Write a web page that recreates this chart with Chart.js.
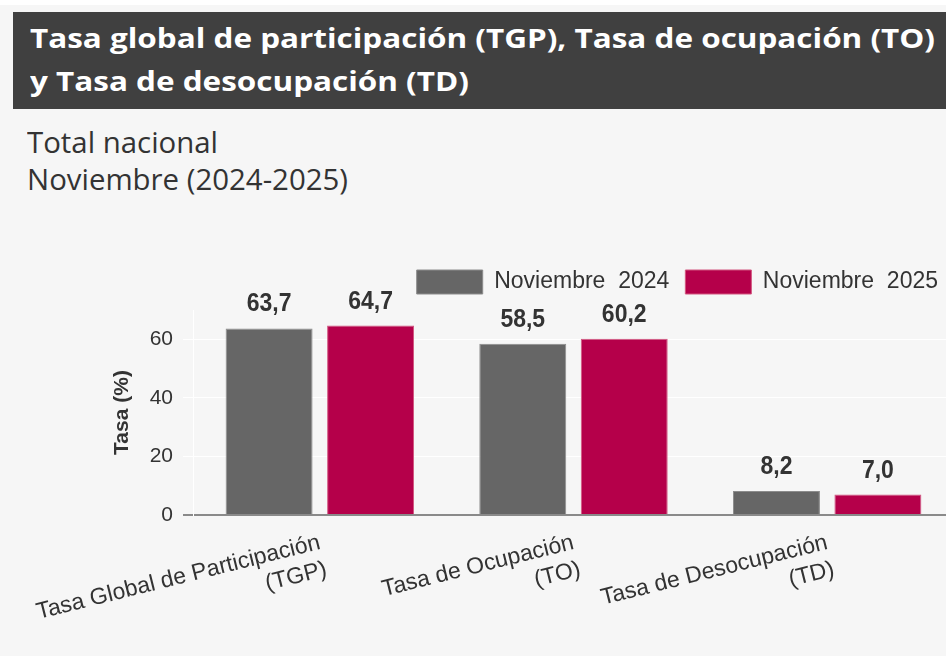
<!DOCTYPE html>
<html>
<head>
<meta charset="utf-8">
<script src="https://cdn.jsdelivr.net/npm/chart.js@4.4.1/dist/chart.umd.min.js"></script>
<style>
  html, body { margin:0; padding:0; width:946px; height:656px; overflow:hidden; background:#ffffff; }
  #bg { position:absolute; left:0; top:5px; width:946px; height:651px; background:#f6f6f6; }
  #titlebar { position:absolute; left:13px; top:12px; width:940px; height:97px; background:#404040; }
  .tl { position:absolute; left:30px; font-family:"Open Sans", sans-serif; font-weight:700; font-size:26px; color:#ffffff; white-space:nowrap; transform-origin:0 0; line-height:1; }
  .st { position:absolute; left:27px; font-family:"Open Sans", sans-serif; font-size:29px; color:#333333; white-space:nowrap; transform-origin:0 0; line-height:1; }
  #c { position:absolute; left:0; top:230px; }
</style>
</head>
<body>
<div id="bg"></div>
<div id="titlebar"></div>
<div class="tl" id="t1" style="top:25px">Tasa global de participación (TGP), Tasa de ocupación (TO)</div>
<div class="tl" id="t2" style="top:68px">y Tasa de desocupación (TD)</div>
<div class="st" id="s1" style="top:127px">Total nacional</div>
<div class="st" id="s2" style="top:164px">Noviembre (2024-2025)</div>
<canvas id="c" width="962" height="426"></canvas>
<script>
// fit header text widths
(function(){
  var t1 = document.getElementById('t1');
  var k = 905 / t1.getBoundingClientRect().width;
  t1.style.transform = 'scaleX(' + k + ')';
  document.getElementById('t2').style.transform = 'scaleX(' + k + ')';
  var s2 = document.getElementById('s2');
  var k2 = 321 / s2.getBoundingClientRect().width;
  s2.style.transform = 'scaleX(' + k2 + ')';
  document.getElementById('s1').style.transform = 'scaleX(' + k2 + ')';
})();

const categories = [
  ['Tasa Global de Participación', '(TGP)'],
  ['Tasa de Ocupación', '(TO)'],
  ['Tasa de Desocupación', '(TD)']
];
const seriesNames = ['Noviembre  2024', 'Noviembre  2025'];
const values2024 = [63.7, 58.5, 8.2];
const values2025 = [64.7, 60.2, 7.0];
const yTicks = [0, 20, 40, 60];

const FONT = "'Liberation Sans', Arial, sans-serif";

const valueLabels = {
  id: 'valueLabels',
  afterDatasetsDraw(chart) {
    const ctx = chart.ctx;
    ctx.save();
    ctx.fillStyle = '#333333';
    ctx.font = 'bold 23px ' + FONT;
    ctx.textAlign = 'center';
    ctx.textBaseline = 'alphabetic';
    chart.data.datasets.forEach((ds, i) => {
      const meta = chart.getDatasetMeta(i);
      meta.data.forEach((bar, j) => {
        const txt = ds.data[j].toFixed(1).replace('.', ',');
        ctx.save();
        ctx.translate(bar.x, bar.y - 17);
        ctx.scale(1, 1.12);
        ctx.fillText(txt, 0, 0);
        ctx.restore();
      });
    });
    ctx.restore();
  }
};

const legendGap = {
  id: 'legendGap',
  afterInit(chart) {
    const lg = chart.legend;
    if (lg && !lg._gapPatched) {
      const orig = lg.fit;
      lg.fit = function () { orig.apply(this, arguments); this.height += 6; };
      lg._gapPatched = true;
    }
  }
};

new Chart(document.getElementById('c'), {
  type: 'bar',
  data: {
    labels: categories,
    datasets: [
      { label: seriesNames[0], data: values2024, backgroundColor: '#666666', borderColor: '#8c8c8c', borderWidth: 1,
        categoryPercentage: 0.8, barPercentage: 0.857 },
      { label: seriesNames[1], data: values2025, backgroundColor: '#b5004a', borderColor: '#d2557f', borderWidth: 1,
        categoryPercentage: 0.8, barPercentage: 0.857 }
    ]
  },
  options: {
    responsive: false,
    devicePixelRatio: 1,
    animation: false,
    layout: { padding: { top: 24, right: 8, left: 0, bottom: 0 } },
    plugins: {
      legend: {
        position: 'top',
        align: 'end',
        labels: { boxWidth: 66, boxHeight: 24, padding: 16, color: '#333333', font: { family: FONT, size: 23 } }
      },
      tooltip: { enabled: false }
    },
    scales: {
      x: {
        grid: { display: false, drawTicks: false },
        border: { display: true, color: '#8a8a8a', width: 2 },
        ticks: { color: '#333333', font: { family: FONT, size: 23 }, minRotation: 14, maxRotation: 14, autoSkip: false, padding: 14 },
        afterFit(scale) { scale.height = 141; scale.paddingLeft = 0; scale.paddingRight = 0; }
      },
      y: {
        min: 0, max: 70,
        afterBuildTicks(scale) { scale.ticks = yTicks.map(v => ({ value: v })); },
        grid: {
          color: (c) => (c.tick && c.tick.value === 0) ? '#8a8a8a' : '#ffffff',
          lineWidth: (c) => (c.tick && c.tick.value === 0) ? 2 : 1,
          tickLength: 10
        },
        border: { display: true, color: '#ffffff', width: 1 },
        ticks: { color: '#333333', font: { family: FONT, size: 21 }, padding: 10 },
        title: { display: true, text: 'Tasa (%)', color: '#333333', font: { family: FONT, size: 21, weight: 'bold' }, padding: { top: 110, bottom: 0 } },
        afterFit(scale) { scale.width = 193; }
      }
    }
  },
  plugins: [valueLabels, legendGap]
});
</script>
</body>
</html>
